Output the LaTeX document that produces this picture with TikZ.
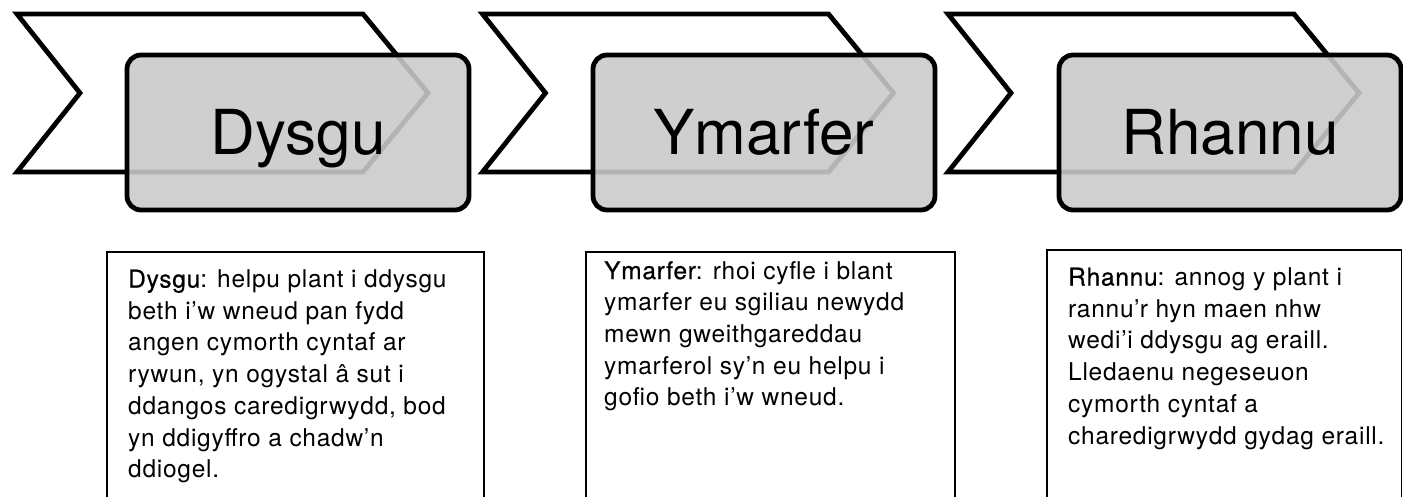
\documentclass[tikz,border=0pt]{standalone}
\usepackage{fontspec}
\setmainfont{TeX Gyre Heros}[LetterSpace=3]
\newfontfamily\labfont{TeX Gyre Heros}[FakeBold=0.6,LetterSpace=3]
\newfontfamily\titlefont{TeX Gyre Heros}
\definecolor{boxgray}{RGB}{202,202,202}
\begin{document}
\begin{tikzpicture}[x=1pt,y=-1pt,
  chev/.style={draw=black,line width=4.8pt,line join=miter,fill=white},
  stepbox/.style={draw=black,line width=4.8pt,rounded corners=14pt,fill=boxgray,fill opacity=0.89,
    minimum width=342pt,minimum height=155pt,inner sep=0pt},
  steptitle/.style={anchor=base,inner sep=0pt,font=\titlefont\fontsize{62}{70}\selectfont},
  descbox/.style={draw=black,line width=1.6pt,fill=none},
  desc/.style={anchor=north west,inner sep=0pt,align=left,font=\fontsize{24.5}{31.7}\selectfont}]
\path[use as bounding box] (0,0) rectangle (1403,497);
\clip (0,0) rectangle (1403,497);

% stage 1
\draw[chev] (17,14) -- (363,14) -- (428,93) -- (363,172) -- (17,172) -- (80,93) -- cycle;
\node[stepbox] (b1) at (298,132.5) {};
\node[steptitle] (t1) at (298,155) {Dysgu};
% stage 2
\draw[chev] (482.5,14) -- (828.5,14) -- (893.5,93) -- (828.5,172) -- (482.5,172) -- (545.5,93) -- cycle;
\node[stepbox] (b2) at (764,132.5) {};
\node[steptitle] (t2) at (764,155) {Ymarfer};
% stage 3
\draw[chev] (948,14) -- (1294,14) -- (1359,93) -- (1294,172) -- (948,172) -- (1011,93) -- cycle;
\node[stepbox] (b3) at (1230,132.5) {};
\node[steptitle] (t3) at (1230,155) {Rhannu};

% description boxes
\draw[descbox] (107,252) rectangle (484,530);
\draw[descbox] (586,252) rectangle (955,530);
\draw[descbox] (1047,250) rectangle (1401.5,530);

\node[desc] (d1) at (128,269.5) {{\labfont Dysgu}: helpu plant i ddysgu\\ beth i’w wneud pan fydd\\ angen cymorth cyntaf ar\\ rywun, yn ogystal â sut i\\ ddangos caredigrwydd, bod\\ yn ddigyffro a chadw’n\\ ddiogel.};
\node[desc] (d2) at (604,261) {{\labfont Ymarfer}: rhoi cyfle i blant\\ ymarfer eu sgiliau newydd\\ mewn gweithgareddau\\ ymarferol sy’n eu helpu i\\ gofio beth i’w wneud.};
\node[desc] (d3) at (1068,267.5) {{\labfont Rhannu}: annog y plant i\\ rannu’r hyn maen nhw\\ wedi’i ddysgu ag eraill.\\ Lledaenu negeseuon\\ cymorth cyntaf a\\ charedigrwydd gydag eraill.};
\end{tikzpicture}
\end{document}
